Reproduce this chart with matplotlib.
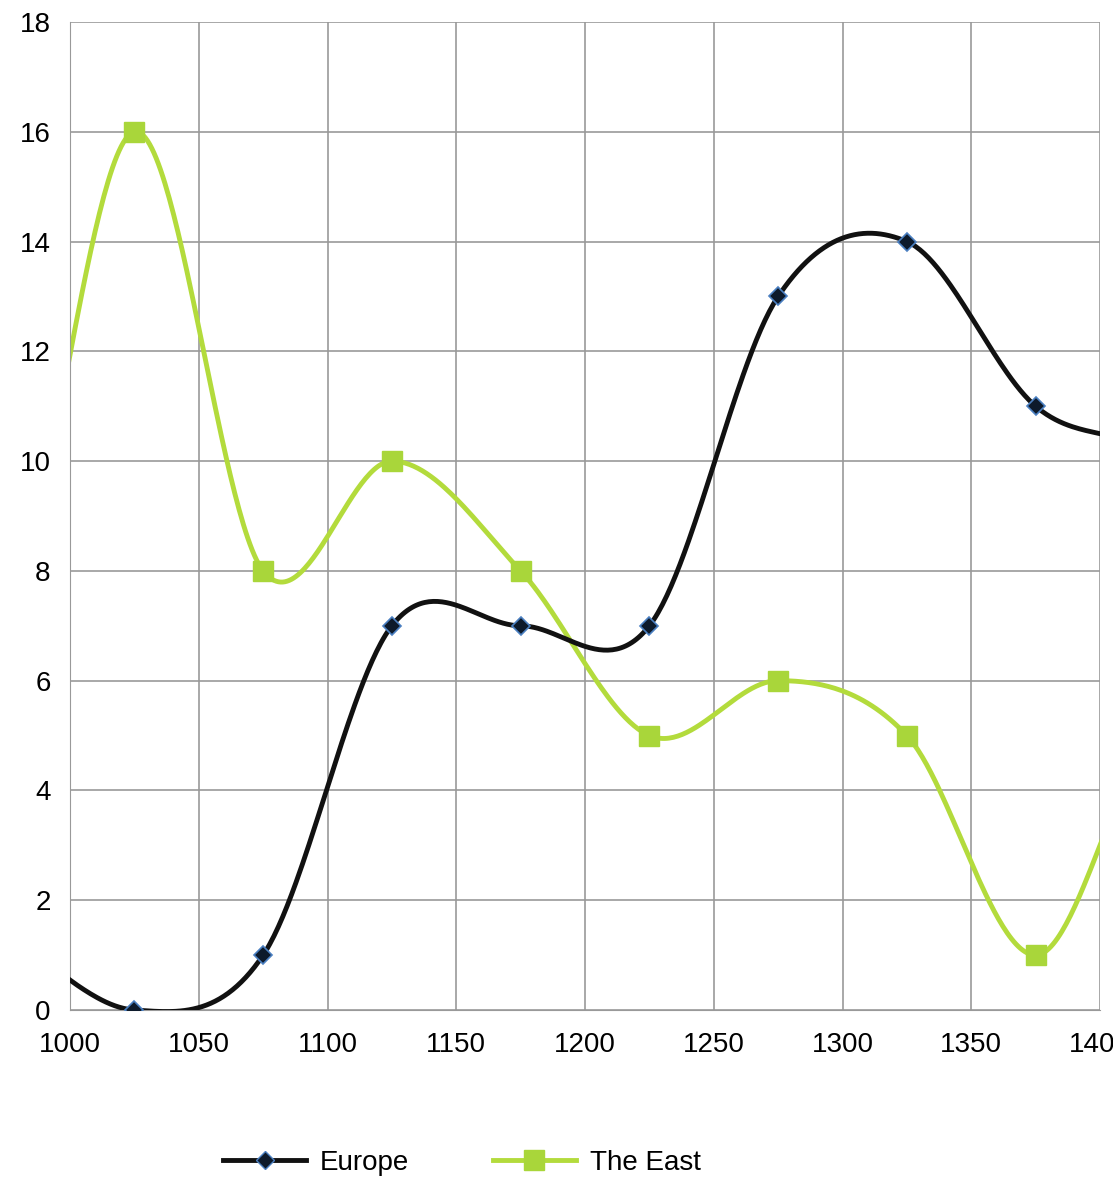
import numpy as np
import matplotlib
matplotlib.use("Agg")
import matplotlib.pyplot as plt
from matplotlib.lines import Line2D

plt.rcParams['font.family'] = ['Liberation Sans', 'DejaVu Sans']

years = [925, 975, 1025, 1075, 1125, 1175, 1225, 1275, 1325, 1375, 1425, 1475]
europe = [2, 1.3, 0, 1, 7, 7, 7, 13, 14, 11, 10, 7]
east = [8, 7, 16, 8, 10, 8, 5, 6, 5, 1, 5, 1]
visible = slice(2, 10)

def catmull(x, y, n=60):
    xs, ys = [], []
    for i in range(1, len(x) - 2):
        p0, p1, p2, p3 = y[i-1], y[i], y[i+1], y[i+2]
        t = np.linspace(0, 1, n)
        v = 0.5 * ((2*p1) + (-p0 + p2)*t + (2*p0 - 5*p1 + 4*p2 - p3)*t**2 + (-p0 + 3*p1 - 3*p2 + p3)*t**3)
        xs.append(x[i] + (x[i+1] - x[i]) * t)
        ys.append(v)
    return np.concatenate(xs), np.concatenate(ys)

fig = plt.figure(figsize=(11.13, 11.91), dpi=100)
ax = fig.add_axes([70/1113, 1-1010/1191, 1030/1113, 988/1191])

gx, gy = catmull(years, east)
ax.plot(gx, gy, color="#B3DB3C", lw=3.5, zorder=2)
ax.plot(years[visible], east[visible], ls="none", marker="s", ms=15, color="#A9D63A", zorder=3)
ex, ey = catmull(years, europe)
ax.plot(ex, ey, color="#111111", lw=3.5, zorder=4)
ax.plot(years[visible], europe[visible], ls="none", marker="D", ms=9, mfc="#0d1a2b", mec="#4a7fc1", mew=1.2, zorder=5)

ax.set_xlim(1000, 1400)
ax.set_ylim(0, 18)
ax.set_xticks(range(1000, 1401, 50))
ax.set_yticks(range(0, 19, 2))
ax.grid(True, color="#999999", lw=1.2)
for s in ["top", "right"]:
    ax.spines[s].set_visible(False)
for s in ["left", "bottom"]:
    ax.spines[s].set_color("#999999")
ax.tick_params(labelsize=20, length=0, pad=14)
ax.tick_params(axis="x", pad=16)

h = [Line2D([], [], color="#111111", lw=3.5, marker="D", ms=9, mfc="#0d1a2b", mec="#4a7fc1"),
     Line2D([], [], color="#B3DB3C", lw=3.5, marker="s", ms=15, mfc="#A9D63A", mec="#A9D63A")]
fig.legend(h, ["Europe", "The East"], loc="center", bbox_to_anchor=(0.415, 1-1163/1191),
           ncol=2, frameon=False, fontsize=20, handlelength=3.0, columnspacing=3, handletextpad=0.5)
fig.savefig("out.png", dpi=100)
